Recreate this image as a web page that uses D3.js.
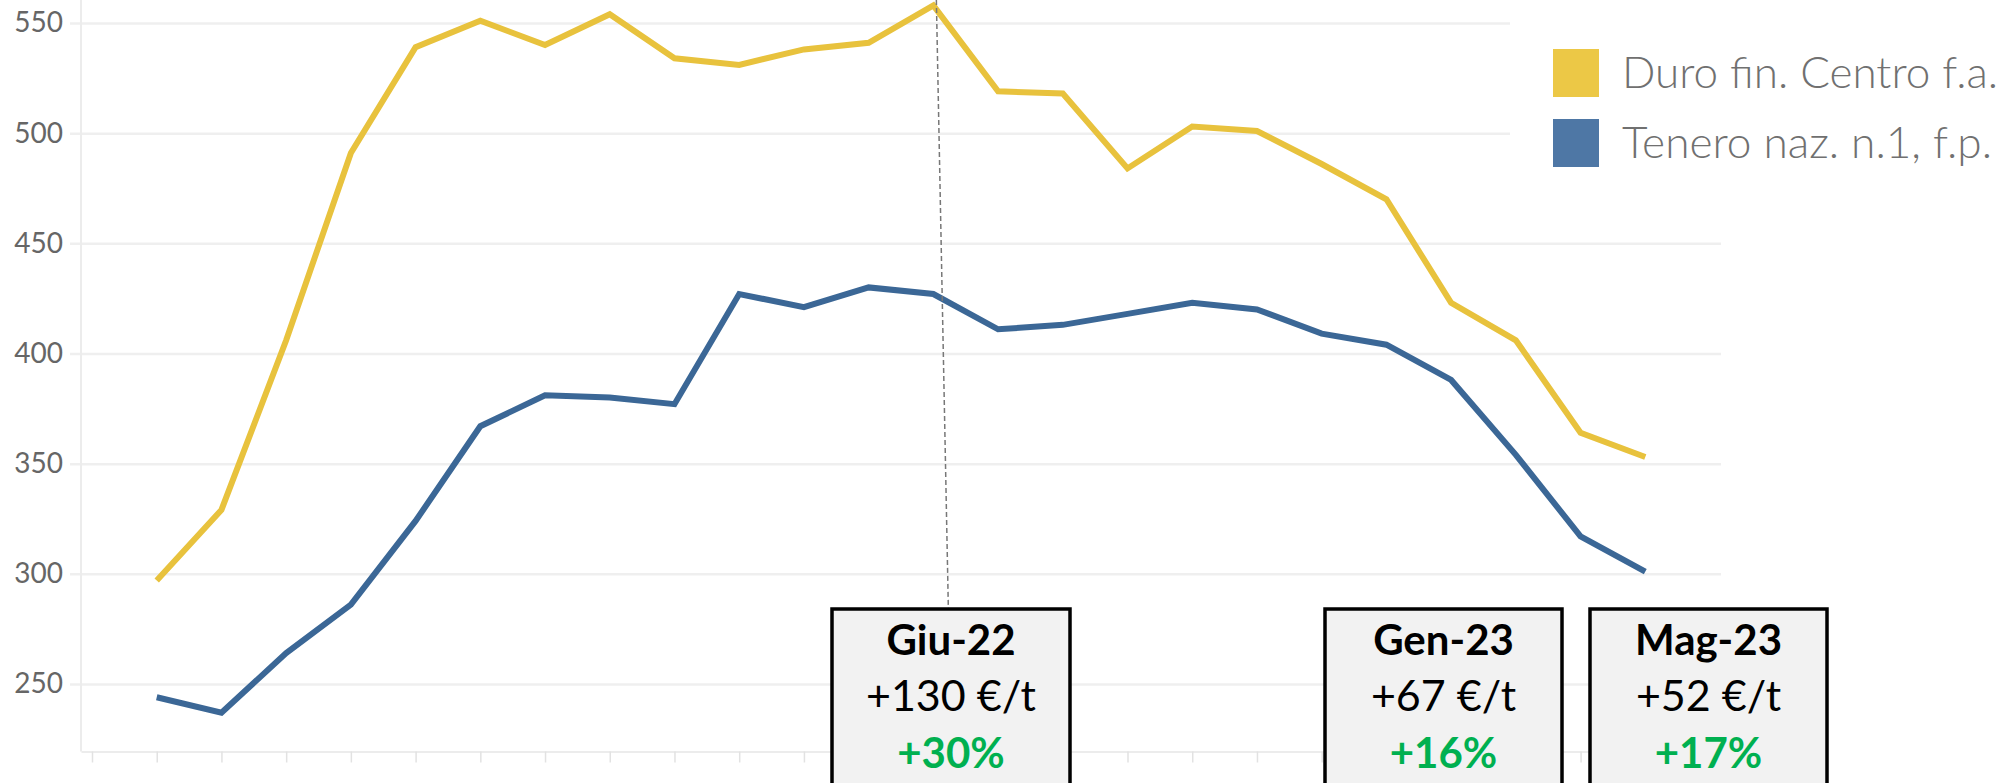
<!DOCTYPE html>
<html>
<head>
<meta charset="utf-8">
<script src="https://cdn.jsdelivr.net/npm/d3@7/dist/d3.min.js"></script>
<style>
  html, body { margin: 0; padding: 0; background: #fff; overflow: hidden; }
  svg { display: block; }
</style>
</head>
<body>
<svg id="chart" width="2006" height="783"></svg>
<script>
// ---- data ----
const months = ["Giu-21","Lug-21","Ago-21","Set-21","Ott-21","Nov-21","Dic-21","Gen-22","Feb-22","Mar-22","Apr-22","Mag-22",
                "Giu-22","Lug-22","Ago-22","Set-22","Ott-22","Nov-22","Dic-22","Gen-23","Feb-23","Mar-23","Apr-23","Mag-23"];
const duro   = [297, 329, 406, 491, 539, 551, 540, 554, 534, 531, 538, 541,
                558, 519, 518, 484, 503, 501, 486, 470, 423, 406, 364, 353];
const tenero = [244, 237, 264, 286, 324, 367, 381, 380, 377, 427, 421, 430,
                427, 411, 413, 418, 423, 420, 409, 404, 388, 354, 317, 301];
const seriesNames = ["Duro fin. Centro f.a.", "Tenero naz. n.1, f.p."];
const yTicks = [250, 300, 350, 400, 450, 500, 550];
const notes = [
  {month: "Giu-22", diff: "+130 €/t", pct: "+30%"},
  {month: "Gen-23", diff: "+67 €/t",  pct: "+16%"},
  {month: "Mag-23", diff: "+52 €/t",  pct: "+17%"}
];

// ---- layout ----
const lineCol = ["#e8c23d", "#3b6796"];
const legCol  = ["#ecc846", "#4e77a5"];
const svg = d3.select("#chart");
const left = 81, right = 1721, bottom = 751.5;

const x = d3.scaleLinear().domain([-1.17, 24.17]).range([left, right]);
const y = d3.scaleLinear().domain([250, 550]).range([684, 23]);

// gridlines + y labels
const yAxis = d3.axisLeft(y).tickValues(yTicks).tickSize(right - 70).tickPadding(7).tickFormat(d3.format("d"));
const gy = svg.append("g").attr("transform", `translate(${right},0)`).call(yAxis);
gy.select(".domain").remove();
gy.selectAll(".tick line").attr("stroke", "#efefef").attr("stroke-width", 2.5);
gy.selectAll(".tick text").attr("fill", "#666").style("font-family", "Lato, 'Noto Sans', sans-serif").style("font-size", "28px");

// left axis line
svg.append("line").attr("x1", left).attr("x2", left).attr("y1", 0).attr("y2", bottom)
  .attr("stroke", "#ececec").attr("stroke-width", 2);

// bottom axis with ticks
const xAxis = d3.axisBottom(x).tickValues(d3.range(-1, 25)).tickSize(11).tickSizeOuter(0).tickFormat("");
const gx = svg.append("g").attr("transform", `translate(0,${bottom})`).call(xAxis);
gx.select(".domain").attr("stroke", "#ececec").attr("stroke-width", 2);
gx.selectAll(".tick line").attr("stroke", "#e2e2e2").attr("stroke-width", 1.5);

// legend background (covers top gridlines)
svg.append("rect").attr("x", 1510).attr("y", 0).attr("width", 496).attr("height", 200).attr("fill", "#fff");

// lines
const line = d3.line().x((d, i) => x(i)).y(d => y(d));
[duro, tenero].forEach((s, k) => {
  svg.append("path").datum(s).attr("d", line)
    .attr("fill", "none").attr("stroke", lineCol[k]).attr("stroke-width", 6)
    .attr("stroke-linejoin", "miter").attr("stroke-linecap", "butt");
});

// legend
seriesNames.forEach((n, k) => {
  svg.append("rect").attr("x", 1553).attr("y", 49 + k * 70).attr("width", 46).attr("height", 48).attr("fill", legCol[k]);
  svg.append("text").attr("x", 1622).attr("y", 88 + k * 70).text(n)
    .attr("fill", "#707070").style("font-family", "Lato, 'Noto Sans', sans-serif")
    .style("font-size", "43px").style("font-weight", 300)
    .attr("textLength", k === 0 ? 376 : 370).attr("lengthAdjust", "spacingAndGlyphs");
});

// dashed annotation line from the Giu-22 peak
const iPeak = months.indexOf("Giu-22");
svg.append("line").attr("x1", x(iPeak) + 3).attr("y1", 0).attr("x2", x(iPeak) + 15).attr("y2", 609)
  .attr("stroke", "#777").attr("stroke-width", 1.5).attr("stroke-dasharray", "5,3");

// annotation boxes
const boxes = [{x0: 832, x1: 1070}, {x0: 1325, x1: 1562}, {x0: 1590, x1: 1827}];
notes.forEach((nt, k) => {
  const b = boxes[k], cx = (b.x0 + b.x1) / 2;
  svg.append("rect").attr("x", b.x0).attr("y", 609).attr("width", b.x1 - b.x0).attr("height", 200)
    .attr("fill", "#f2f2f2").attr("stroke", "#000").attr("stroke-width", 3.5);
  const t = svg.append("g").style("font-family", "Lato, 'Liberation Sans', sans-serif").attr("text-anchor", "middle");
  t.append("text").attr("x", cx).attr("y", 655).text(nt.month).style("font-size", "42px").style("font-weight", 700).attr("fill", "#000");
  t.append("text").attr("x", cx).attr("y", 711).text(nt.diff).style("font-size", "43px").attr("fill", "#000");
  t.append("text").attr("x", cx).attr("y", 768).text(nt.pct).style("font-size", "42px").style("font-weight", 700).attr("fill", "#00b050");
});
</script>
</body>
</html>
